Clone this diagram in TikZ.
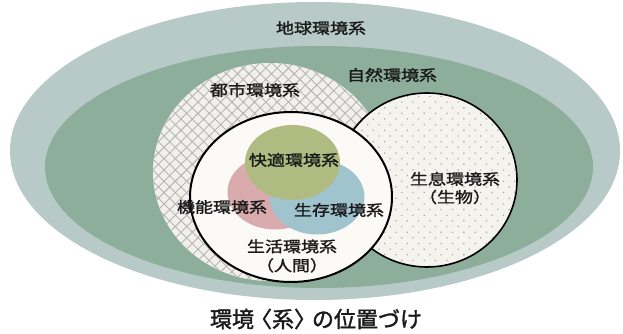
\documentclass[tikz,border=0pt]{standalone}
\usepackage{fontspec}
\newfontfamily\jp[FakeStretch=1.2,FakeBold=1.6]{Noto Sans CJK JP}
\newfontfamily\jpt[FakeBold=1.6]{Noto Sans CJK JP}
\usetikzlibrary{patterns.meta}
\definecolor{outerc}{HTML}{B7CAC7}
\definecolor{innerc}{HTML}{8DAE9B}
\definecolor{hatchbg}{HTML}{F1F0EB}
\definecolor{hatchln}{HTML}{B5B5B5}
\definecolor{dotbg}{HTML}{F4F3EE}
\definecolor{dotc}{HTML}{ABABAB}
\definecolor{whitec}{HTML}{FBFAF6}
\definecolor{greenc}{HTML}{AFBB80}
\definecolor{pinkc}{HTML}{D9ABAD}
\definecolor{bluec}{HTML}{9FC4CE}
\definecolor{textc}{HTML}{1A1A1A}
\begin{document}
\begin{tikzpicture}[x=1pt,y=-1pt,
  lbl/.style={font=\jp\fontsize{15}{19}\selectfont, text=textc, inner sep=0pt, align=center},
  ttl/.style={font=\jpt\fontsize{22}{24}\selectfont, text=textc, inner sep=0pt}]
\useasboundingbox (0,0) rectangle (623,334);
% earth
\fill[outerc] (315,151) ellipse [x radius=305pt, y radius=149pt];
% nature
\fill[innerc] (319,167) ellipse [x radius=274pt, y radius=121pt];
% urban (hatched)
\fill[hatchbg] (270,172) ellipse [x radius=117pt, y radius=109pt];
\fill[pattern={Hatch[angle=45,distance=8pt,line width=0.9pt]}, pattern color=hatchln]
  (270,172) ellipse [x radius=117pt, y radius=109pt];
% habitat (dotted)
\filldraw[fill=dotbg, draw=black, line width=1.6pt] (427,180) ellipse [x radius=90pt, y radius=87pt];
\fill[pattern={Dots[distance=8pt,radius=0.9pt,angle=45]}, pattern color=dotc]
  (427,180) ellipse [x radius=89pt, y radius=86pt];
% living (white)
\filldraw[fill=whitec, draw=black, line width=2pt] (291,197) ellipse [x radius=101pt, y radius=85pt];
% three inner circles
\fill[pinkc] (275,192) ellipse [x radius=47.5pt, y radius=37.5pt];
\fill[bluec] (317,197) ellipse [x radius=47.5pt, y radius=37.5pt];
\fill[greenc] (292.5,162.5) ellipse [x radius=47.5pt, y radius=37.5pt];
% labels
\node[lbl] (earth) at (321,28) {地球環境系};
\node[lbl] (nature) at (392,75) {自然環境系};
\node[lbl] (urban) at (255,90) {都市環境系};
\node[lbl] (comfort) at (294,160) {快適環境系};
\node[lbl] (func) at (222,207) {機能環境系};
\node[lbl] (exist) at (339,210) {生存環境系};
\node[lbl] (living) at (292,256) {生活環境系\\（人間）};
\node[lbl, font=\jp\fontsize{15}{18}\selectfont] (habitat) at (455,188) {生息環境系\\（生物）};
\node[ttl] (title) at (316,319) {環境\kern-4pt〈系〉\kern-4pt の位置づけ};
\end{tikzpicture}
\end{document}
